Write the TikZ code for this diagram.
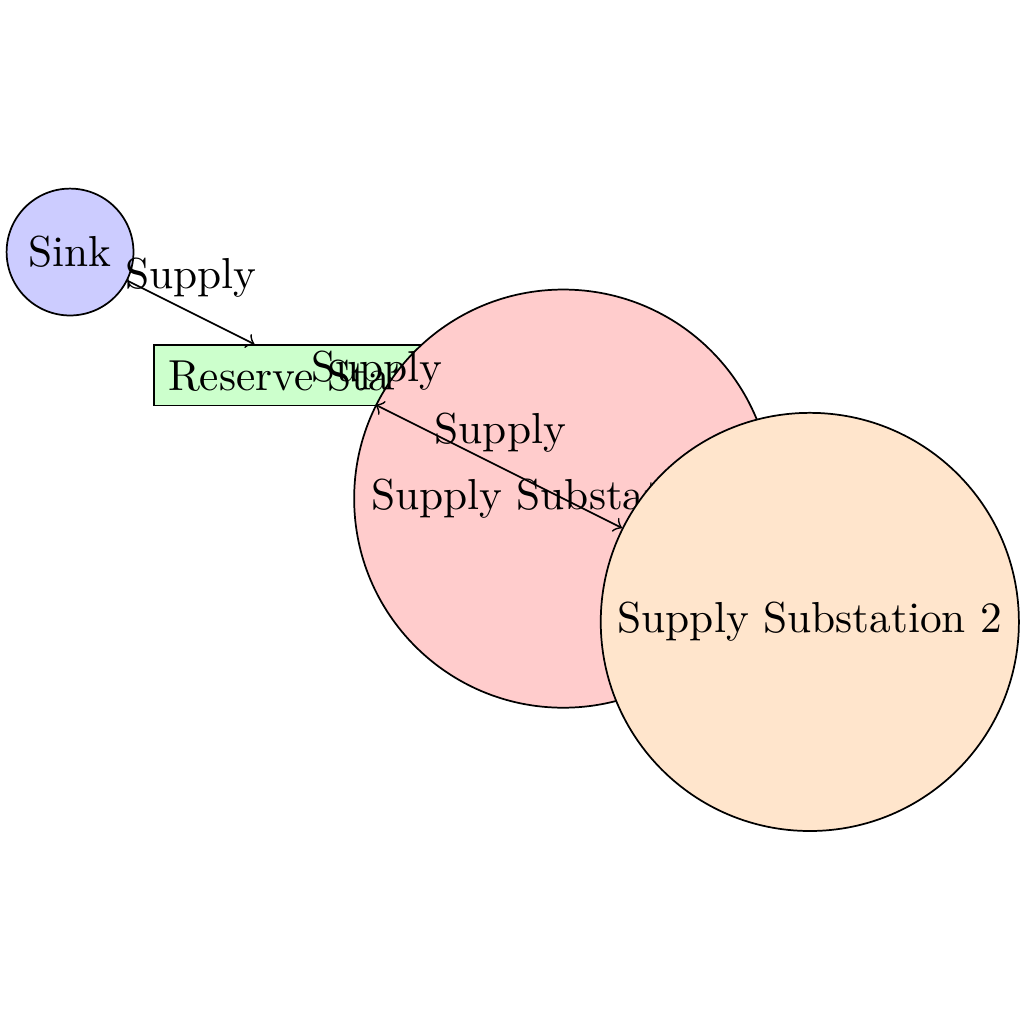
\documentclass[tikz,border=0pt]{standalone}
\begin{document}
\begin{tikzpicture}[
  roundnode/.style={circle,draw,thin},
  boxnode/.style={rectangle,draw,thin},
  flow/.style={->,thin}
]
\useasboundingbox (-0.568,2.044) rectangle (7.737,-6.261);
\node[roundnode,fill=blue!20] (sink) at (0,0) {Sink};
\node[boxnode,fill=green!20] (reserve) at (2,-1) {Reserve Station};
\node[roundnode,fill=red!20] (sub1) at (4,-2) {Supply Substation 1};
\node[roundnode,fill=orange!20] (sub2) at (6,-3) {Supply Substation 2};
\draw[flow] (sink) -- node[above] {Supply} (reserve);
\draw[flow] (reserve) -- node[above] {Supply} (sub1);
\draw[flow] (reserve) -- node[above] {Supply} (sub2);
\end{tikzpicture}
\end{document}
